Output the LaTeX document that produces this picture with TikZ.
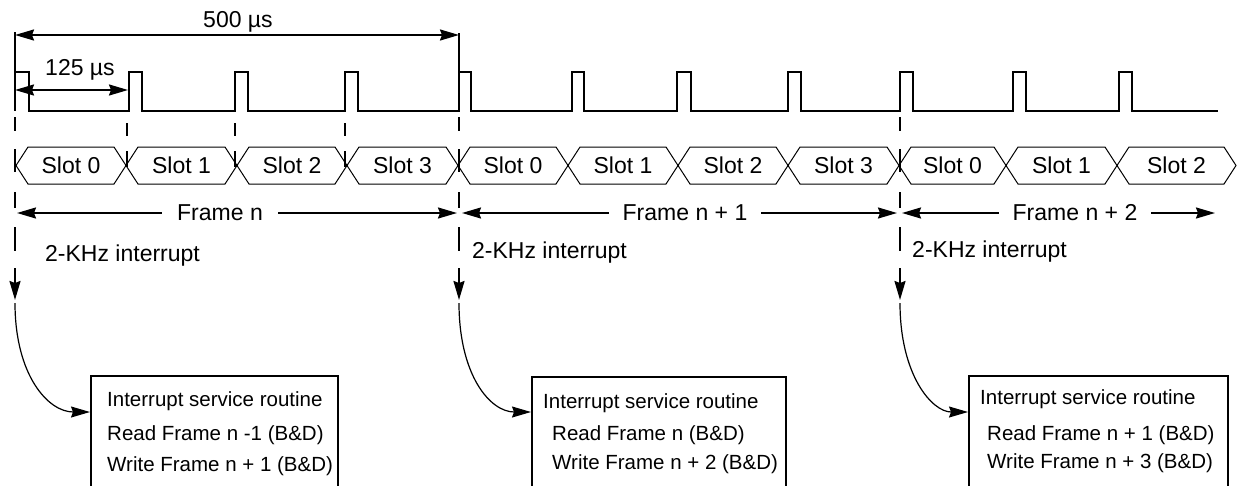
\documentclass[tikz,border=0pt]{standalone}
\usepackage{fontspec}
\setmainfont{Liberation Sans}
\usetikzlibrary{arrows.meta,calc}
\begin{document}
\begin{tikzpicture}[x=1pt,y=-1pt,
  >={Stealth[length=19pt,width=11pt,inset=2pt]},
  big/.style={font=\fontsize{23}{27}\selectfont,inner sep=0pt},
  small/.style={font=\fontsize{20.5}{24}\selectfont,inner sep=0pt,anchor=base west},
  wave/.style={line width=2pt,line join=miter},
  hexa/.style={line width=1pt,line join=miter},
  dimline/.style={line width=2pt,<->},
  cut/.style={line width=2pt},
  curv/.style={line width=1.2pt,->},
  isr/.style={draw,line width=1.8pt,minimum height=160pt,anchor=north west,inner sep=0pt},
  lab/.style={big,fill=white,inner xsep=15pt,inner ysep=2pt,anchor=base}
]
\fill[white] (0,0) rectangle (1239,485);
\useasboundingbox (0,0) rectangle (1239,485);
\clip (0,0) rectangle (1239,485);

% dimension arrows
\coordinate (a0) at (15,35);
\coordinate (a1) at (459,35);
\draw[dimline] (a0) -- (a1);
\node[big,anchor=base] (t500) at (238,27) {500 µs};
\coordinate (c0) at (15,90);
\coordinate (c1) at (128,90);
\draw[dimline] (c0) -- (c1);
\node[big,anchor=base] (t125) at (80,75) {125 µs};

% waveform
\draw[cut] (15,32) -- (15,111);
\draw[cut] (459,33) -- (459,72);
\draw[wave] (15,72) -- (29,72) -- (29,111) -- (129,111) -- (129,72) -- (142,72) -- (142,111)
  -- (235,111) -- (235,72) -- (248,72) -- (248,111) -- (345,111) -- (345,72) -- (358,72) -- (358,111)
  -- (459,111) -- (459,72) -- (471,72) -- (471,111) -- (572,111) -- (572,72) -- (584,72) -- (584,111)
  -- (677,111) -- (677,72) -- (691,72) -- (691,111) -- (788,111) -- (788,72) -- (801,72) -- (801,111)
  -- (900,111) -- (900,72) -- (913,72) -- (913,111) -- (1013,111) -- (1013,72) -- (1026,72) -- (1026,111)
  -- (1119,111) -- (1119,72) -- (1132,72) -- (1132,111) -- (1218,111);

% slot hexagons
\foreach \a/\b/\t/\n in {16/126/Slot 0/s10, 126/237/Slot 1/s11, 237/347/Slot 2/s12, 347/458/Slot 3/s13,
  458/568/Slot 0/s20, 568/678/Slot 1/s21, 678/788/Slot 2/s22, 788/899/Slot 3/s23,
  899/1006/Slot 0/s30, 1006/1117/Slot 1/s31, 1117/1236/Slot 2/s32} {
  \draw[hexa] (\a,165.5) -- (\a+12,147) -- (\b-12,147) -- (\b,165.5) -- (\b-12,184) -- (\a+12,184) -- cycle;
  \node[big,anchor=base] (\n) at ({(\a+\b)/2},173) {\t};
}

% slot boundary dashes (frame n)
\foreach \x in {127,235,345} {
  \draw[cut] (\x,123) -- (\x,136);
  \draw[cut] (\x,151) -- (\x,167);
}

% frame boundary dashes and interrupt arrows
\foreach \x/\n in {15/d1,459/d2,900/d3} {
  \draw[cut] (\x,117) -- (\x,131);
  \draw[cut] (\x,149) -- (\x,172);
  \draw[cut] (\x,192) -- (\x,208);
  \draw[cut] (\x,227) -- (\x,251);
  \coordinate (\n a) at (\x,268);
  \coordinate (\n b) at (\x,300);
  \draw[cut,->] (\n a) -- (\n b);
}

% frame arrows
\coordinate (f0a) at (17,213);   \coordinate (f0b) at (457,213);
\coordinate (f1a) at (462,213);  \coordinate (f1b) at (897,213);
\coordinate (f2a) at (902,213);  \coordinate (f2b) at (1215,213);
\draw[dimline] (f0a) -- (f0b);
\draw[dimline] (f1a) -- (f1b);
\draw[dimline] (f2a) -- (f2b);
\node[lab] (fn0) at (220,220) {Frame n};
\node[lab,inner xsep=14pt] (fn1) at (685,220) {Frame n + 1};
\node[lab,inner xsep=14pt] (fn2) at (1075,220) {Frame n + 2};

% interrupt labels
\node[big,anchor=base west] (i1) at (45,261) {2-KHz interrupt};
\node[big,anchor=base west] (i2) at (472,258) {2-KHz interrupt};
\node[big,anchor=base west] (i3) at (912,257) {2-KHz interrupt};

% ISR boxes
\node[isr,minimum width=247pt] (box1) at (90,375) {};
\node[isr,minimum width=254pt] (box2) at (531,376) {};
\node[isr,minimum width=259pt] (box3) at (968,375) {};

\node[small] (b1l1) at (107,406) {Interrupt service routine};
\node[small] (b1l2) at (107,440) {Read Frame n -1 (B\&D)};
\node[small] (b1l3) at (107,471) {Write Frame n + 1 (B\&D)};
\node[small] (b2l1) at (543,408) {Interrupt service routine};
\node[small] (b2l2) at (552,440) {Read Frame n (B\&D)};
\node[small] (b2l3) at (552,469) {Write Frame n + 2 (B\&D)};
\node[small] (b3l1) at (980,404) {Interrupt service routine};
\node[small] (b3l2) at (987,440) {Read Frame n + 1 (B\&D)};
\node[small] (b3l3) at (987,468) {Write Frame n + 3 (B\&D)};

% curved arrows
\coordinate (e1) at (15,303);
\coordinate (e2) at (459,303);
\coordinate (e3) at (900,303);
\draw[curv] (e1) .. controls (15,375) and (48,412) .. ($(box1.north west)+(0,37)$);
\draw[curv] (e2) .. controls (459,375) and (490,412) .. ($(box2.north west)+(0,36)$);
\draw[curv] (e3) .. controls (900,375) and (932,412) .. ($(box3.north west)+(0,37)$);
\end{tikzpicture}
\end{document}
